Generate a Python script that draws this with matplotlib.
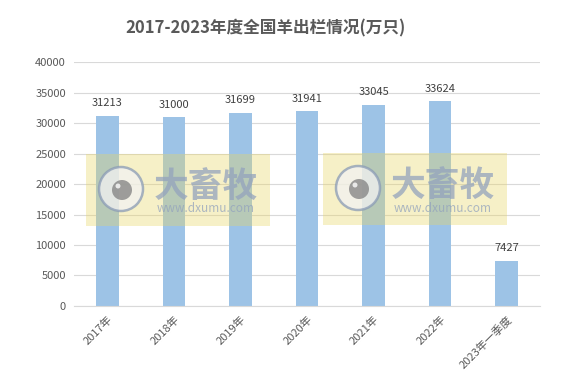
import matplotlib
matplotlib.use('Agg')
import matplotlib.pyplot as plt
from matplotlib.patches import Rectangle, Circle

plt.rcParams['font.family'] = ['Noto Sans CJK SC', 'DejaVu Sans']

# 数据
years = ['2017年', '2018年', '2019年', '2020年', '2021年', '2022年', '2023年一季度']
chulan = [31213, 31000, 31699, 31941, 33045, 33624, 7427]
yticks = [0, 5000, 10000, 15000, 20000, 25000, 30000, 35000, 40000]

fig = plt.figure(figsize=(5.75, 3.81), dpi=100)
ax = fig.add_axes([0.129, 0.197, 0.81, 0.64])

x = range(len(years))
ax.bar(x, chulan, width=0.34, color='#9dc3e6', zorder=2)
for i, v in zip(x, chulan):
    ax.text(i, v + 1200, str(v), ha='center', va='bottom', fontsize=8, color='#404040')

ax.set_xlim(-0.5, len(years) - 0.5)
ax.set_ylim(0, 40000)
ax.set_yticks(yticks)
ax.set_yticklabels([str(t) for t in yticks], fontsize=8, color='#595959')
ax.set_xticks(list(x))
ax.set_xticklabels(years, fontsize=8, color='#595959', rotation=45,
                   ha='right', va='top', rotation_mode='anchor')
ax.tick_params(length=0, pad=6)
ax.yaxis.grid(True, color='#d9d9d9', linewidth=0.8, zorder=0)
for s in ['top', 'right', 'left']:
    ax.spines[s].set_visible(False)
ax.spines['bottom'].set_color('#d9d9d9')

fig.text(266 / 575, 0.925, '2017-2023年度全国羊出栏情况(万只)', ha='center', va='center',
         fontsize=12, fontweight='bold', color='#595959')

# 水印
def watermark(px, py):
    # px, py: 左下角像素位置
    fig.patches.append(Rectangle((px, py), 184, 72, transform=None,
                                 facecolor='#e8d660', edgecolor='none', alpha=0.35, zorder=5))
    cx, cy = px + 35, py + 37
    fig.patches.append(Circle((cx, cy), 22, transform=None,
                              facecolor='#f2f2f2', edgecolor='#8a9bb5', linewidth=1.8,
                              alpha=0.75, zorder=6))
    fig.patches.append(Circle((cx + 1, cy - 1), 10, transform=None,
                              facecolor='#808080', alpha=0.75, zorder=7))
    fig.patches.append(Circle((cx - 3, cy + 3), 2.5, transform=None,
                              facecolor='#f2f2f2', alpha=0.9, zorder=7))
    fig.text((px + 120) / 575, (py + 40) / 381, '大畜牧', ha='center', va='center',
             fontsize=25, fontweight='bold', color='#93a3bd', alpha=0.75, zorder=8)
    fig.text((px + 120) / 575, (py + 17) / 381, 'www.dxumu.com', ha='center', va='center',
             fontsize=8.5, color='#93a3bd', alpha=0.75, zorder=8)

watermark(86, 381 - 226)
watermark(323, 381 - 225)

fig.savefig('out.png', dpi=100)
